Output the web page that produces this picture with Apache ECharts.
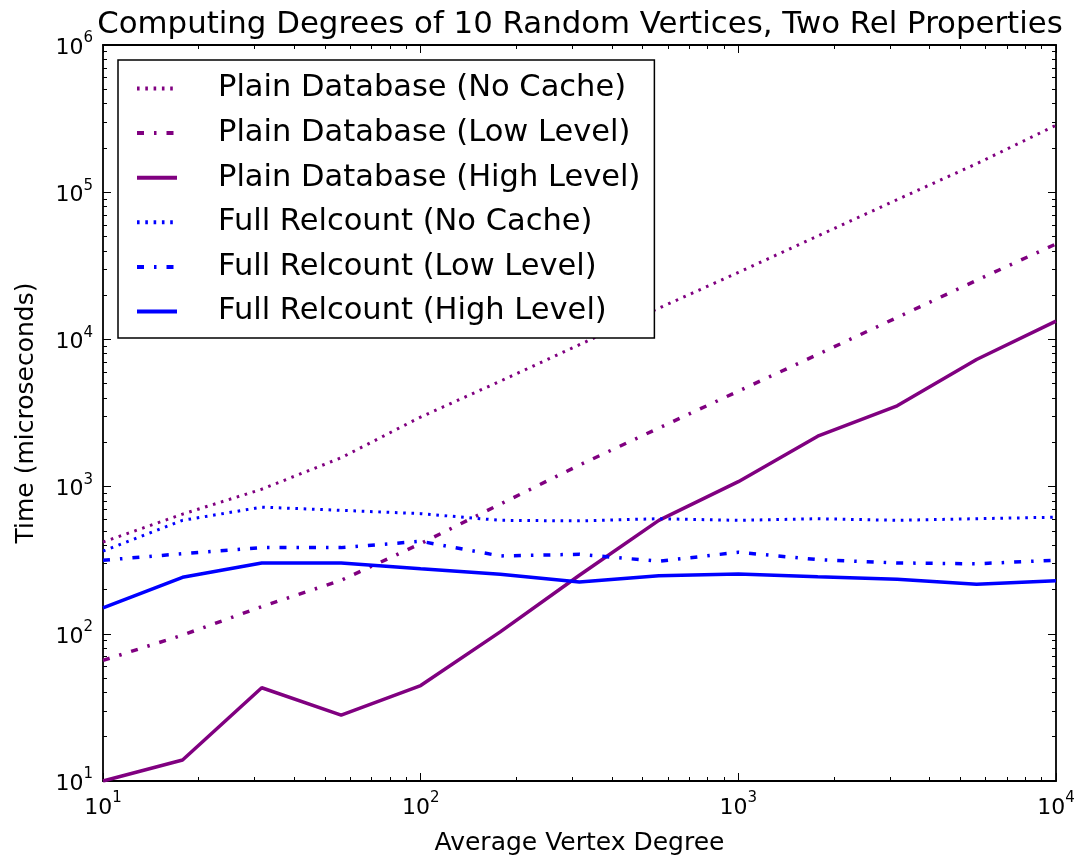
<!DOCTYPE html>
<html>
<head>
<meta charset="utf-8">
<style>
  html, body { margin: 0; padding: 0; background: #fff; }
  #chart { width: 1081px; height: 861px; }
</style>
<script src="https://cdn.jsdelivr.net/npm/echarts@6/dist/echarts.min.js"></script>
</head>
<body>
<div id="chart"></div>
<script>
// Average vertex degree (quarter-decade steps)
const degrees = [10, 17.8, 31.6, 56.2, 100, 178, 316, 562, 1000, 1778, 3162, 5623, 10000];

// Time in microseconds
const plainNoCache   = [420, 650, 960, 1570, 2970, 5200, 9200, 16300, 28500, 50400, 89000, 156000, 285000];
const plainLowLevel  = [66, 98, 153, 231, 410, 760, 1400, 2500, 4450, 7900, 14100, 25200, 44500];
const plainHighLevel = [10, 13.9, 43, 28, 44.5, 103, 250, 590, 1080, 2200, 3540, 7300, 13300];
const fullNoCache    = [365, 590, 725, 690, 655, 590, 585, 605, 590, 605, 590, 605, 620];
const fullLowLevel   = [316, 350, 385, 385, 425, 338, 347, 311, 358, 319, 303, 299, 316];
const fullHighLevel  = [150, 242, 303, 303, 277, 254, 225, 248, 255, 244, 235, 217, 229];

const seriesNames = [
  'Plain Database (No Cache)',
  'Plain Database (Low Level)',
  'Plain Database (High Level)',
  'Full Relcount (No Cache)',
  'Full Relcount (Low Level)',
  'Full Relcount (High Level)'
];

// Axis ranges (powers of ten)
const xDecades = [1, 4];
const yDecades = [1, 6];

const FONT = 'DejaVu Sans';
const PURPLE = '#800080';
const BLUE = '#0000ff';
const DOTTED = [2.6, 5.7];
const DASHDOT = [7, 10, 2.5, 10];

// minor tick positions (2..9 within each decade), in exponent space
function minorTicks(lo, hi) {
  const out = [];
  for (let k = lo; k < hi; k++) {
    for (let m = 2; m <= 9; m++) out.push(k + Math.log10(m));
  }
  return out;
}

const pow10Label = {
  formatter: v => '{b|10}{s|' + Math.round(Math.log10(v)) + '}',
  rich: {
    b: { fontFamily: FONT, fontSize: 22, color: '#000', lineHeight: 28, verticalAlign: 'bottom' },
    s: { fontFamily: FONT, fontSize: 15, color: '#000', lineHeight: 14, verticalAlign: 'top' }
  }
};

const frameLine = { show: true, onZero: false, lineStyle: { color: '#000', width: 1.8 } };
const majorTick = { show: true, inside: true, length: 8, lineStyle: { color: '#000', width: 1 } };
const hidden = { show: false };

function minorAxis(position, decades) {
  return {
    type: 'value', position: position,
    min: decades[0], max: decades[1],
    axisLine: hidden, axisLabel: hidden, splitLine: hidden,
    axisTick: { show: true, inside: true, length: 4, lineStyle: { color: '#000', width: 1 },
                customValues: minorTicks(decades[0], decades[1]) }
  };
}

const pairs = arr => degrees.map((d, i) => [d, arr[i]]);

function line(name, data, color, type, width) {
  return {
    name: name, type: 'line', data: pairs(data),
    xAxisIndex: 0, yAxisIndex: 0,
    symbol: 'none', smooth: false, animation: false,
    lineStyle: { color: color, width: width, type: type, cap: 'butt' },
    itemStyle: { color: color }
  };
}

const chart = echarts.init(document.getElementById('chart'), null, { renderer: 'canvas' });
chart.setOption({
  backgroundColor: '#fff',
  animation: false,
  title: {
    text: 'Computing Degrees of 10 Random Vertices, Two Rel Properties',
    left: 575, top: 4, textAlign: 'center',
    textStyle: { fontFamily: FONT, fontSize: 30.8, fontWeight: 'normal', color: '#000' }
  },
  grid: { left: 103, right: 25, top: 45, bottom: 78, containLabel: false },
  legend: {
    orient: 'vertical', left: 118, top: 60,
    padding: [13, 14, 11, 17],
    itemWidth: 40, itemHeight: 14, itemGap: 13.6,
    backgroundColor: '#fff', borderColor: '#000', borderWidth: 1.5, borderRadius: 0,
    itemStyle: { opacity: 0 },
    lineStyle: { width: 4 },
    textStyle: { fontFamily: FONT, fontSize: 30.5, color: '#000', lineHeight: 30, padding: [0, 0, 0, 36] },
    data: seriesNames
  },
  xAxis: [
    {
      type: 'log', position: 'bottom',
      min: Math.pow(10, xDecades[0]), max: Math.pow(10, xDecades[1]),
      name: 'Average Vertex Degree', nameLocation: 'middle', nameGap: 50,
      nameTextStyle: { fontFamily: FONT, fontSize: 25, color: '#000' },
      axisLine: frameLine, axisTick: majorTick, splitLine: hidden,
      axisLabel: Object.assign({ margin: 10, showMinLabel: true, showMaxLabel: true }, pow10Label)
    },
    minorAxis('bottom', xDecades),
    {
      type: 'log', position: 'top',
      min: Math.pow(10, xDecades[0]), max: Math.pow(10, xDecades[1]),
      axisLine: frameLine, axisTick: majorTick, splitLine: hidden, axisLabel: hidden
    },
    minorAxis('top', xDecades)
  ],
  yAxis: [
    {
      type: 'log', position: 'left',
      min: Math.pow(10, yDecades[0]), max: Math.pow(10, yDecades[1]),
      name: 'Time (microseconds)', nameLocation: 'middle', nameGap: 64,
      nameTextStyle: { fontFamily: FONT, fontSize: 25, color: '#000' },
      axisLine: frameLine, axisTick: majorTick, splitLine: hidden,
      axisLabel: Object.assign({ margin: 10, showMinLabel: true, showMaxLabel: true }, pow10Label)
    },
    minorAxis('left', yDecades),
    {
      type: 'log', position: 'right',
      min: Math.pow(10, yDecades[0]), max: Math.pow(10, yDecades[1]),
      axisLine: frameLine, axisTick: majorTick, splitLine: hidden, axisLabel: hidden
    },
    minorAxis('right', yDecades)
  ],
  series: [
    line(seriesNames[0], plainNoCache, PURPLE, DOTTED, 3),
    line(seriesNames[1], plainLowLevel, PURPLE, DASHDOT, 3.5),
    line(seriesNames[2], plainHighLevel, PURPLE, 'solid', 3.5),
    line(seriesNames[3], fullNoCache, BLUE, DOTTED, 3),
    line(seriesNames[4], fullLowLevel, BLUE, DASHDOT, 3.5),
    line(seriesNames[5], fullHighLevel, BLUE, 'solid', 3.5)
  ]
});
</script>
</body>
</html>
